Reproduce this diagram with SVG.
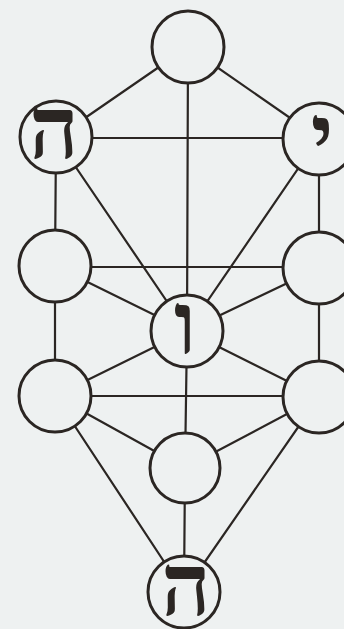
<svg xmlns="http://www.w3.org/2000/svg" width="344" height="629" viewBox="0 0 344 629">
<style>
.bg{fill:#eef1f1}
.c line{stroke:#2b2623;stroke-width:2.2;stroke-linecap:round}
.n circle{fill:#eef1f1;stroke:#2b2623;stroke-width:3}
.n text{font-family:"Liberation Serif","DejaVu Sans",serif;font-weight:bold;fill:#2b2623;text-anchor:middle;font-size:86px}
</style>
<rect class="bg" x="0" y="0" width="344" height="629"/>
<g id="connectors" class="c">
<line x1="188" y1="47" x2="56" y2="138"/>
<line x1="188" y1="47" x2="319" y2="138"/>
<line x1="188" y1="47" x2="187" y2="331"/>
<line x1="56" y1="138" x2="319" y2="138"/>
<line x1="56" y1="138" x2="55" y2="266"/>
<line x1="56" y1="138" x2="187" y2="331"/>
<line x1="319" y1="138" x2="319" y2="268"/>
<line x1="319" y1="138" x2="187" y2="331"/>
<line x1="55" y1="267" x2="319" y2="267"/>
<line x1="55" y1="266" x2="187" y2="331"/>
<line x1="319" y1="268" x2="187" y2="331"/>
<line x1="55" y1="266" x2="55" y2="396"/>
<line x1="319" y1="268" x2="319" y2="397"/>
<line x1="55" y1="396" x2="187" y2="331"/>
<line x1="319" y1="397" x2="187" y2="331"/>
<line x1="55" y1="396" x2="319" y2="396"/>
<line x1="187" y1="331" x2="185" y2="468"/>
<line x1="55" y1="396" x2="185" y2="468"/>
<line x1="319" y1="397" x2="185" y2="468"/>
<line x1="55" y1="396" x2="184" y2="592"/>
<line x1="319" y1="397" x2="184" y2="592"/>
<line x1="185" y1="468" x2="184" y2="592"/>
</g>
<g id="keter" class="n"><circle cx="188" cy="47" r="36"/></g>
<g id="binah" class="n"><circle cx="56" cy="137" r="36"/><text x="54" y="158">ה</text></g>
<g id="chokhmah" class="n"><circle cx="319" cy="139" r="36"/><text x="322" y="166">י</text></g>
<g id="gevurah" class="n"><circle cx="55" cy="266" r="36"/></g>
<g id="chesed" class="n"><circle cx="319" cy="268" r="36"/></g>
<g id="tiferet" class="n"><circle cx="187" cy="331" r="36"/><text x="185" y="353">ו</text></g>
<g id="hod" class="n"><circle cx="55" cy="396" r="36"/></g>
<g id="netzach" class="n"><circle cx="319" cy="397" r="36"/></g>
<g id="yesod" class="n"><circle cx="185" cy="468" r="35"/></g>
<g id="malkhut" class="n"><circle cx="184" cy="592" r="36"/><text x="186" y="615">ה</text></g>
</svg>
